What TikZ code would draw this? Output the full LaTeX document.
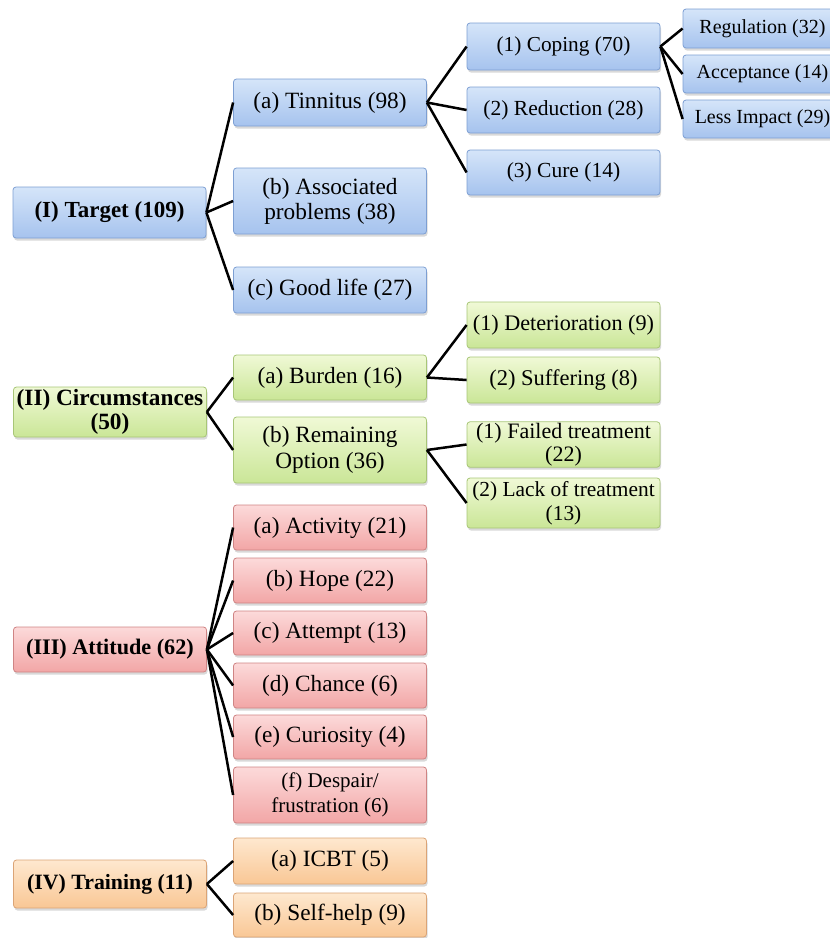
\documentclass[tikz,border=0pt]{standalone}
\usepackage{fontspec}
\setmainfont{Liberation Serif}
\usetikzlibrary{shadows}
\definecolor{blueT}{HTML}{D5E5F9}
\definecolor{blueB}{HTML}{A6C3EE}
\definecolor{blueD}{HTML}{7D9FD3}
\definecolor{greenT}{HTML}{F0F9D6}
\definecolor{greenB}{HTML}{CAE697}
\definecolor{greenD}{HTML}{A8C677}
\definecolor{redT}{HTML}{FCDADA}
\definecolor{redB}{HTML}{F2A6A6}
\definecolor{redD}{HTML}{CF8484}
\definecolor{orT}{HTML}{FEE8CF}
\definecolor{orB}{HTML}{F9C795}
\definecolor{orD}{HTML}{DBA476}
\tikzset{
  box/.style={draw, rounded corners=3pt, line width=0.8pt, inner sep=1pt, align=center,
    font=\fontsize{23.3}{25}\selectfont,
    drop shadow={shadow xshift=1pt, shadow yshift=-2.5pt, opacity=0.3, fill=gray}},
  bbox/.style={box, draw=blueD, top color=blueT, bottom color=blueB},
  gbox/.style={box, draw=greenD, top color=greenT, bottom color=greenB},
  rbox/.style={box, draw=redD, top color=redT, bottom color=redB},
  obox/.style={box, draw=orD, top color=orT, bottom color=orB},
  wd/.style={minimum width=193pt},
  ht/.style={minimum height=#1pt},
  fs/.style={font=\fontsize{#1}{23.5}\selectfont},
  main/.style={font=\fontsize{#1}{23.5}\selectfont\bfseries},
  conn/.style={line width=2.5pt, black},
}
\begin{document}
\begin{tikzpicture}[x=1pt, y=-1pt]
\useasboundingbox (0,0) rectangle (830,938);
% Blue
\node[bbox, wd, ht=51, main=23] (T) at (109.5,212.5) {(I) Target (109)};
\node[bbox, wd, ht=47] (Ta) at (330,102.5) {(a) Tinnitus (98)};
\node[bbox, wd, ht=66] (Tb) at (330,201) {(b) Associated\\problems (38)};
\node[bbox, wd, ht=46] (Tc) at (330,290) {(c) Good life (27)};
\node[bbox, wd, ht=47, fs=21.3] (Ta1) at (563.5,46.5) {(1) Coping (70)};
\node[bbox, wd, ht=46, fs=21.5] (Ta2) at (563.5,110) {(2) Reduction (28)};
\node[bbox, wd, ht=45, fs=21.5] (Ta3) at (563.5,172.5) {(3) Cure (14)};
\node[bbox, fs=20, minimum width=159pt, ht=39] (R1) at (762.5,28.5) {Regulation (32)};
\node[bbox, fs=20, minimum width=159pt, ht=38] (R2) at (762.5,74) {Acceptance (14)};
\node[bbox, fs=20, minimum width=159pt, ht=38] (R3) at (762.5,119) {Less Impact (29)};
% Green
\node[gbox, wd, ht=50, main=23.3] (C) at (110,412) {(II) Circumstances\\(50)};
\node[gbox, wd, ht=45] (Ca) at (330,377.5) {(a) Burden (16)};
\node[gbox, wd, ht=66, font=\fontsize{23.3}{26}\selectfont] (Cb) at (330,450) {(b) Remaining\\Option (36)};
\node[gbox, wd, ht=46, fs=22.2] (Ca1) at (563.5,325) {(1) Deterioration (9)};
\node[gbox, wd, ht=46, fs=22.5] (Ca2) at (563.5,380) {(2) Suffering (8)};
\node[gbox, wd, ht=45, fs=22] (Cb1) at (563.5,444.5) {(1) Failed treatment\\(22)};
\node[gbox, wd, ht=50, fs=21.4] (Cb2) at (563.5,503) {(2) Lack of treatment\\(13)};
% Red
\node[rbox, wd, ht=45, main=22.2] (A) at (110,649.5) {(III) Attitude (62)};
\node[rbox, wd, ht=45] (Aa) at (330,527.5) {(a) Activity (21)};
\node[rbox, wd, ht=45] (Ab) at (330,580.5) {(b) Hope (22)};
\node[rbox, wd, ht=44] (Ac) at (330,633) {(c) Attempt (13)};
\node[rbox, wd, ht=45] (Ad) at (330,685.5) {(d) Chance (6)};
\node[rbox, wd, ht=44] (Ae) at (330,737) {(e) Curiosity (4)};
\node[rbox, wd, ht=56, font=\fontsize{21}{25}\selectfont] (Af) at (330,795) {(f) Despair/\\frustration (6)};
% Orange
\node[obox, wd, ht=48, main=21.8] (Tr) at (110,884) {(IV) Training (11)};
\node[obox, wd, ht=46] (Tra) at (330,861) {(a) ICBT (5)};
\node[obox, wd, ht=44] (Trb) at (330,915) {(b) Self-help (9)};
% Connectors
\foreach \c in {Ta,Tb,Tc} \draw[conn] (T.east) -- (\c.west);
\foreach \c in {Ta1,Ta2,Ta3} \draw[conn] (Ta.east) -- (\c.west);
\foreach \c in {R1,R2,R3} \draw[conn] (Ta1.east) -- (\c.west);
\foreach \c in {Ca,Cb} \draw[conn] (C.east) -- (\c.west);
\foreach \c in {Ca1,Ca2} \draw[conn] (Ca.east) -- (\c.west);
\foreach \c in {Cb1,Cb2} \draw[conn] (Cb.east) -- (\c.west);
\foreach \c in {Aa,Ab,Ac,Ad,Ae,Af} \draw[conn] (A.east) -- (\c.west);
\foreach \c in {Tra,Trb} \draw[conn] (Tr.east) -- (\c.west);
\end{tikzpicture}
\end{document}
